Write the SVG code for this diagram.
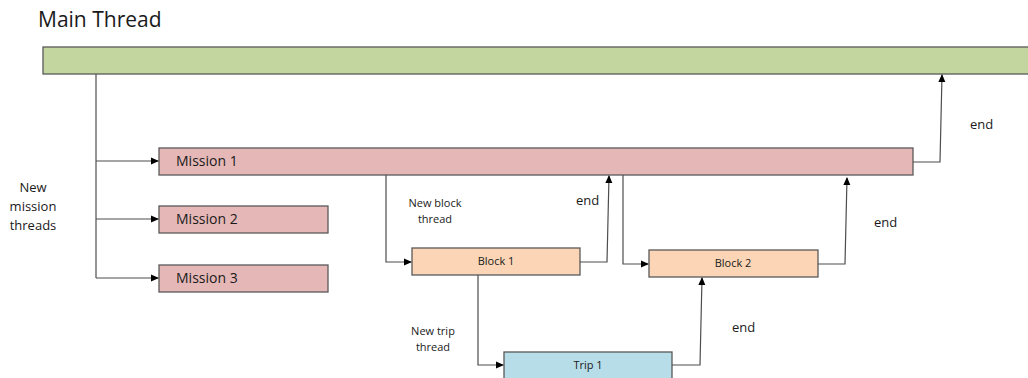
<svg xmlns="http://www.w3.org/2000/svg" width="1028" height="378" viewBox="0 0 1028 378">
<defs>
<marker id="ah" markerWidth="8" markerHeight="8" refX="7" refY="4" orient="auto" markerUnits="userSpaceOnUse">
<path d="M0,0.5 L8,4 L0,7.5 Z" fill="#000"/>
</marker>
<style>
text{font-family:"Open Sans","Noto Sans","DejaVu Sans",sans-serif;fill:#1a1a1a}
.box{stroke:#595959;stroke-width:1.3}
.main{fill:#c4d69f}
.mis{fill:#e5b8b7}
.blk{fill:#fbd5b5}
.trip{fill:#b6dde8}
.c{fill:none;stroke:#4d4d4d;stroke-width:1.2;marker-end:url(#ah)}
.l{fill:none;stroke:#4d4d4d;stroke-width:1.2}
.m{font-size:14px}
.n{font-size:13px}
.s{font-size:11px}
.e{font-size:13px}
</style>
</defs>
<text x="38" y="27" font-size="21">Main Thread</text>
<g id="main"><rect class="box main" x="43" y="47" width="990" height="27"/></g>
<g id="mission1"><rect class="box mis" x="159" y="148" width="754" height="27"/><text class="m" x="176" y="166">Mission 1</text></g>
<g id="mission2"><rect class="box mis" x="159" y="206" width="169" height="27"/><text class="m" x="176" y="224">Mission 2</text></g>
<g id="mission3"><rect class="box mis" x="159" y="265" width="169" height="27"/><text class="m" x="176" y="283">Mission 3</text></g>
<g id="block1"><rect class="box blk" x="412" y="248" width="168" height="27"/><text class="s" x="496" y="265" text-anchor="middle">Block 1</text></g>
<g id="block2"><rect class="box blk" x="649" y="250" width="169" height="27"/><text class="s" x="733" y="267" text-anchor="middle">Block 2</text></g>
<g id="trip1"><rect class="box trip" x="504" y="352" width="168" height="30"/><text class="s" x="588" y="369" text-anchor="middle">Trip 1</text></g>
<g id="connectors">
<path class="l" d="M96,74 V278"/>
<path class="c" d="M96,161 H158"/>
<path class="c" d="M96,219 H158"/>
<path class="c" d="M96,278 H158"/>
<path class="c" d="M913,162 H940 L942,75"/>
<path class="c" d="M386,175 V262 H411"/>
<path class="c" d="M580,262 H607 L609,176"/>
<path class="c" d="M623,175 V264 H648"/>
<path class="c" d="M818,264 H845 L847,178"/>
<path class="c" d="M478,275 V365 H503"/>
<path class="c" d="M672,365 H700 L702,278"/>
</g>
<g id="labels">
<text class="n" x="33" y="192" text-anchor="middle">New</text>
<text class="n" x="33" y="211" text-anchor="middle">mission</text>
<text class="n" x="33" y="230" text-anchor="middle">threads</text>
<text class="s" x="435" y="207" text-anchor="middle">New block</text>
<text class="s" x="435" y="223" text-anchor="middle">thread</text>
<text class="s" x="433" y="335" text-anchor="middle">New trip</text>
<text class="s" x="433" y="351" text-anchor="middle">thread</text>
<text class="e" x="970" y="129">end</text>
<text class="e" x="576" y="205">end</text>
<text class="e" x="874" y="227">end</text>
<text class="e" x="732" y="332">end</text>
</g>
</svg>
